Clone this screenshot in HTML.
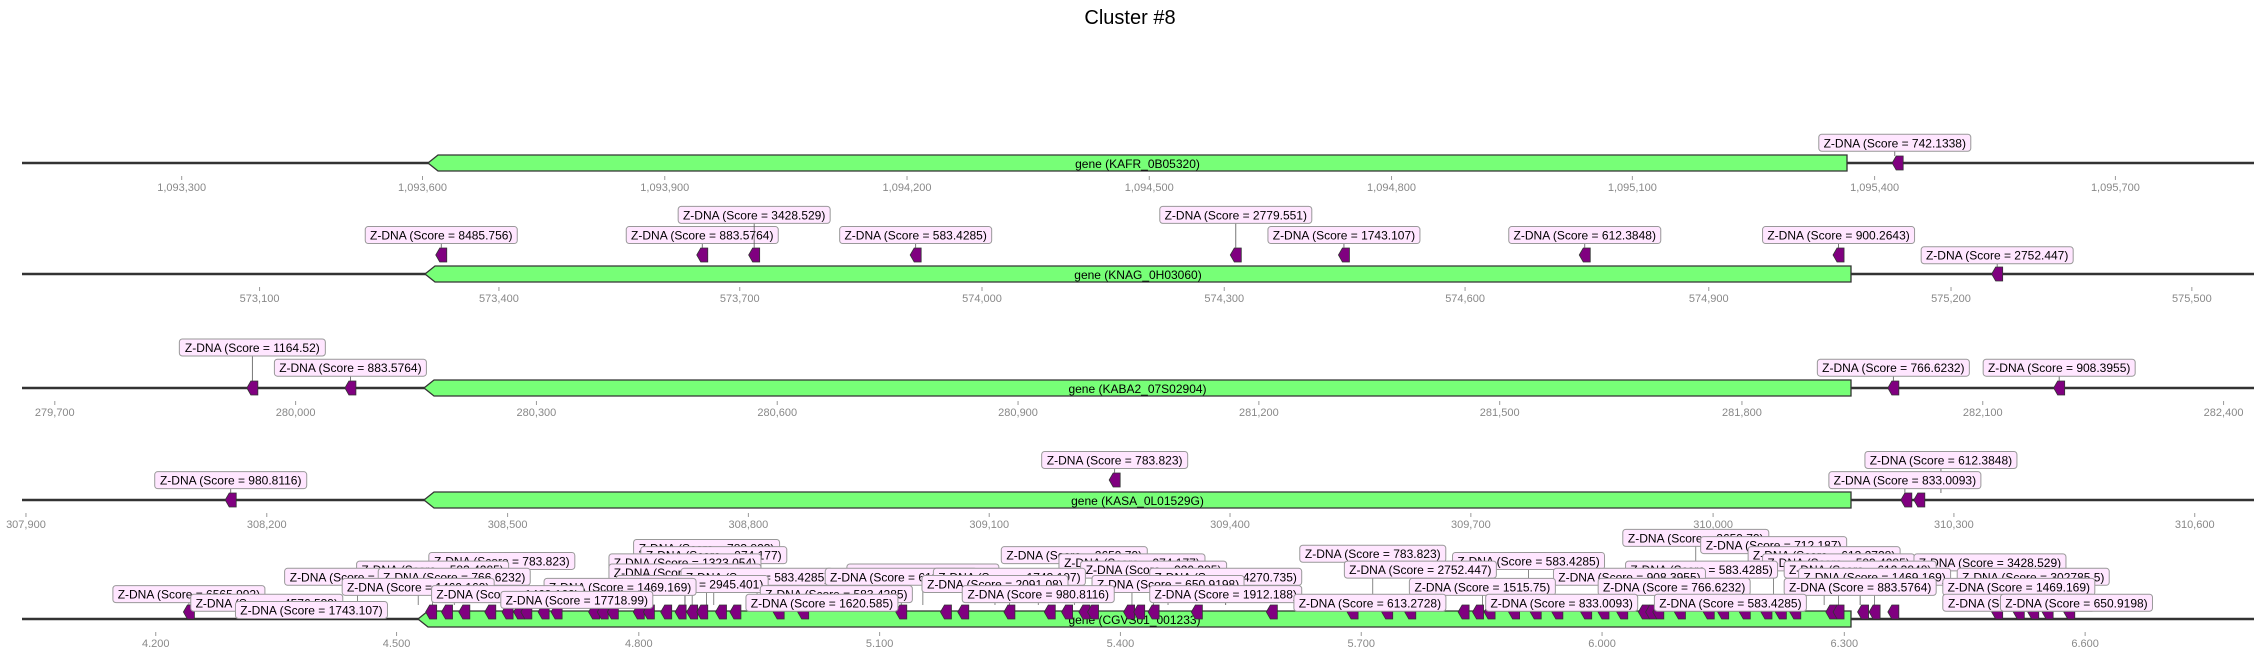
<!DOCTYPE html>
<html><head><meta charset="utf-8"><style>
html,body{margin:0;padding:0;background:#fff;}
svg{display:block;}
text{font-family:"Liberation Sans","DejaVu Sans",sans-serif;}
</style></head><body>
<svg id="s" width="2261" height="647" viewBox="0 0 2261 647" xmlns="http://www.w3.org/2000/svg">
<text x="1130" y="24" font-size="20" text-anchor="middle" fill="#000">Cluster #8</text>
</svg>
<script>
const S=1.442, svg=document.getElementById('s'), NS='http://www.w3.org/2000/svg';
function el(t,a,txt){const e=document.createElementNS(NS,t);for(const k in a)e.setAttribute(k,a[k]);if(txt!==undefined)e.textContent=txt;svg.appendChild(e);return e;}
function track(ly,gx1,gx2,gname,ticks){
  el('line',{x1:22,y1:ly,x2:2254,y2:ly,stroke:'#333','stroke-width':2.5});
  el('polygon',{points:`${gx1},${ly} ${gx1+10},${ly-8} ${gx2},${ly-8} ${gx2},${ly+8} ${gx1+10},${ly+8}`,fill:'#77ff77',stroke:'#333','stroke-width':1.3});
  el('text',{x:(gx1+gx2)/2,y:ly+5,'font-size':12,'text-anchor':'middle',fill:'#000'},gname);
  ticks.forEach(t=>{const x=t[0]*S;el('line',{x1:x,y1:ly+13,x2:x,y2:ly+17,stroke:'#999','stroke-width':1});
    el('text',{x:x,y:ly+28,'font-size':11,'text-anchor':'middle',fill:'#888'},t[1]);});
}
function marker(cx,cy){cx*=S;const w=11,h=14;
  el('polygon',{points:`${cx-w/2},${cy} ${cx-w/2+4},${cy-h/2} ${cx+w/2},${cy-h/2} ${cx+w/2},${cy+h/2} ${cx-w/2+4},${cy+h/2}`,fill:'#800080',stroke:'#333','stroke-width':0.8});}
function label(cx,cy,score,my){cx*=S;cy*=S;const t='Z-DNA (Score = '+score+')';const w=t.length*6.0+8;
  if(my!==undefined) el('line',{x1:cx,y1:cy+8,x2:cx,y2:my,stroke:'#555','stroke-width':0.8});
  el('rect',{x:cx-w/2,y:cy-8.5,width:w,height:17,rx:3,fill:'#ffe6ff',stroke:'#999','stroke-width':1});
  el('text',{x:cx,y:cy+4.5,'font-size':12,'text-anchor':'middle',fill:'#000'},t);}
track(163,428,1847,'gene (KAFR_0B05320)',[[126,'1,093,300'],[293,'1,093,600'],[461,'1,093,900'],[629,'1,094,200'],[797,'1,094,500'],[965,'1,094,800'],[1132,'1,095,100'],[1300,'1,095,400'],[1467,'1,095,700']]);
marker(1316,163);label(1314,99,'742.1338',156);
track(274,425,1851,'gene (KNAG_0H03060)',[[180,'573,100'],[346,'573,400'],[513,'573,700'],[681,'574,000'],[849,'574,300'],[1016,'574,600'],[1185,'574,900'],[1353,'575,200'],[1520,'575,500']]);
[[306,163,'8485.756'],[487,163,'883.5764'],[523,149,'3428.529'],[635,163,'583.4285'],[857,149,'2779.551'],[932,163,'1743.107'],[1099,163,'612.3848'],[1275,163,'900.2643']].forEach(a=>{marker(a[0],255);label(a[0],a[1],a[2],248);});
marker(1385,274);label(1385,177,'2752.447',267);
track(388,424,1851,'gene (KABA2_07S02904)',[[38,'279,700'],[205,'280,000'],[372,'280,300'],[539,'280,600'],[706,'280,900'],[873,'281,200'],[1040,'281,500'],[1208,'281,800'],[1375,'282,100'],[1542,'282,400']]);
[[175,241,'1164.52'],[243,255,'883.5764'],[1313,255,'766.6232'],[1428,255,'908.3955']].forEach(a=>{marker(a[0],388);label(a[0],a[1],a[2],381);});
track(500,424,1851,'gene (KASA_0L01529G)',[[18,'307,900'],[185,'308,200'],[352,'308,500'],[519,'308,800'],[686,'309,100'],[853,'309,400'],[1020,'309,700'],[1188,'310,000'],[1355,'310,300'],[1522,'310,600']]);
marker(160,500);label(160,333,'980.8116',493);
marker(773,480);label(773,319,'783.823',473);
marker(1322,500);marker(1331,500);label(1346,319,'612.3848',493);label(1321,333,'833.0093',493);
track(619,418,1851,'gene (CGVS01_001233)',[[108,'4,200'],[275,'4,500'],[443,'4,800'],[610,'5,100'],[777,'5,400'],[944,'5,700'],[1111,'6,000'],[1279,'6,300'],[1446,'6,600']]);
const L=[[1176,373,'2659.79'],[1230,378,'712.187'],[490,380,'783.823'],[745,385,'2659.79'],[952,384,'783.823'],[495,385,'974.177'],[1265,385,'613.2728'],[348,389,'783.823'],[1060,389,'583.4285'],[785,390,'974.177'],[475,390,'1323.054'],[1275,390,'583.4285'],[1380,390,'3428.529'],[300,395,'583.4285'],[800,395,'920.385'],[985,395,'2752.447'],[1180,395,'583.4285'],[1290,395,'612.3848'],[640,397,'1323.054'],[475,397,'826.2209'],[248,400,'28780.5'],[315,400,'766.6232'],[525,400,'583.4285'],[625,400,'612.3848'],[700,400,'1743.107'],[850,400,'4270.735'],[1130,400,'908.3955'],[1300,400,'1469.169'],[1410,400,'302785.5'],[480,405,'2945.401'],[690,405,'2091.08'],[810,405,'650.9198'],[290,407,'1469.169'],[430,407,'1469.169'],[1028,407,'1515.75'],[1161,407,'766.6232'],[1290,407,'883.5764'],[1400,407,'1469.169'],[131,412,'6565.992'],[352,412,'1469.169'],[580,412,'583.4285'],[720,412,'980.8116'],[850,412,'1912.188'],[185,418,'4576.539'],[570,418,'1620.585'],[950,418,'613.2728'],[1083,418,'833.0093'],[1200,418,'583.4285'],[1400,418,'1130.595'],[1440,418,'650.9198'],[400,416,'17718.99'],[216,423,'1743.107']];
L.forEach(a=>{const x=a[0]*S,y=a[1]*S;el('line',{x1:x,y1:y+8,x2:x,y2:605,stroke:'#555','stroke-width':0.7});});
const M=[131,178,188,232,243,257,299,310,322,340,352,360,365,377,386,412,418,425,443,450,462,472,480,487,500,510,540,557,625,656,668,700,728,740,752,758,783,790,800,830,882,938,962,978,1015,1025,1033,1050,1065,1080,1100,1112,1125,1140,1145,1150,1165,1185,1195,1210,1225,1235,1245,1270,1275,1292,1300,1313,1385,1400,1410,1420,1435];
M.forEach(x=>marker(x,612));
L.forEach(a=>label(a[0],a[1],a[2]));
</script>
</body></html>
